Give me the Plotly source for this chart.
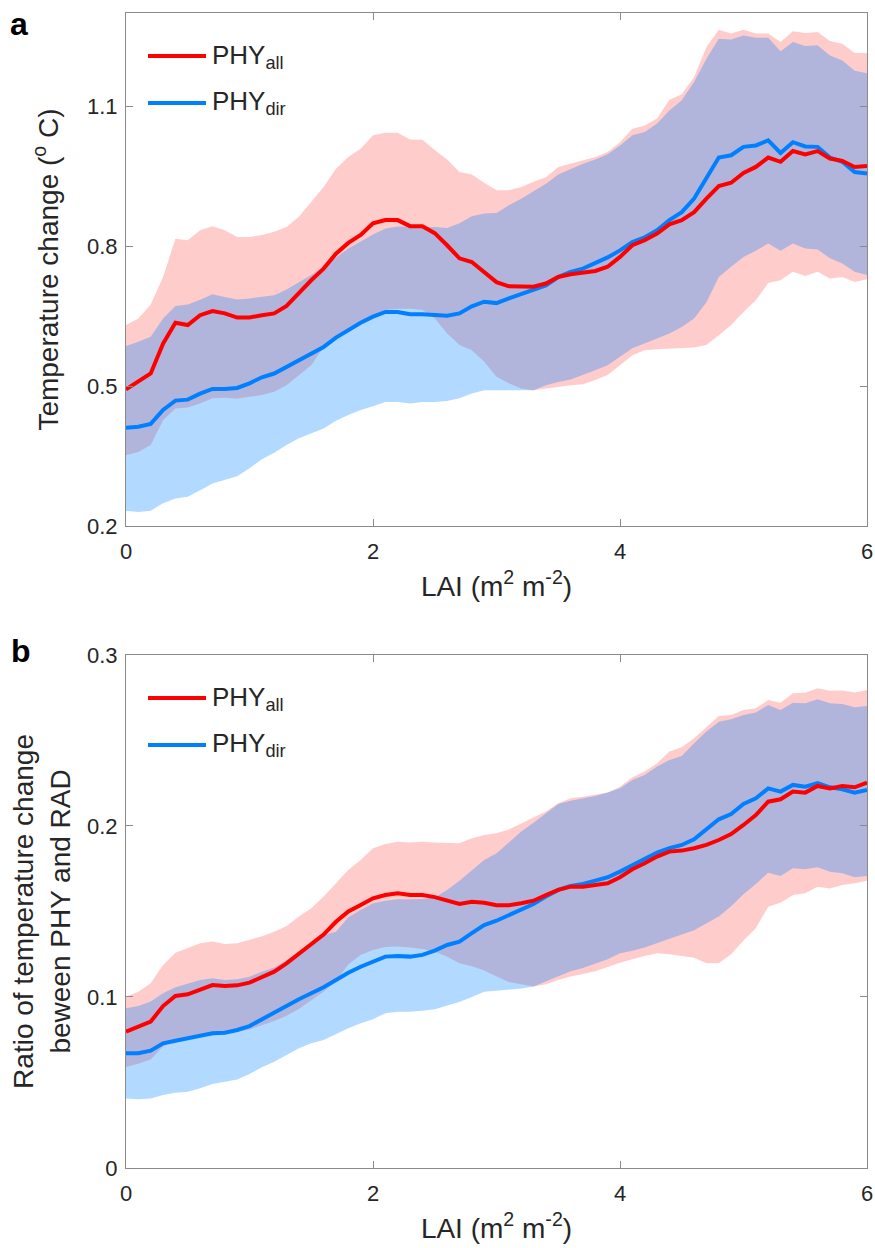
import plotly.graph_objects as go

# ---------------- data ----------------
lai = [round(i * 0.1, 1) for i in range(61)]

# Panel a: temperature change (deg C)
a_all_mean = [0.493, 0.510, 0.527, 0.591, 0.636, 0.631, 0.652, 0.661, 0.656, 0.647,
              0.647, 0.652, 0.656, 0.672, 0.700, 0.727, 0.752, 0.784, 0.807, 0.824,
              0.849, 0.856, 0.856, 0.843, 0.843, 0.828, 0.802, 0.774, 0.766, 0.745,
              0.723, 0.714, 0.713, 0.713, 0.720, 0.734, 0.740, 0.743, 0.747, 0.756,
              0.777, 0.802, 0.813, 0.827, 0.847, 0.856, 0.873, 0.902, 0.929, 0.936,
              0.957, 0.970, 0.990, 0.981, 1.004, 0.997, 1.004, 0.988, 0.983, 0.970,
              0.972]
a_all_upper = [0.631, 0.645, 0.675, 0.734, 0.816, 0.813, 0.834, 0.843, 0.834, 0.820,
               0.820, 0.824, 0.831, 0.841, 0.863, 0.895, 0.927, 0.966, 0.991, 1.009,
               1.038, 1.043, 1.043, 1.029, 1.028, 1.006, 0.986, 0.959, 0.954, 0.936,
               0.920, 0.920, 0.927, 0.938, 0.948, 0.970, 0.977, 0.983, 0.991, 1.002,
               1.023, 1.052, 1.059, 1.074, 1.114, 1.126, 1.163, 1.227, 1.264, 1.256,
               1.264, 1.256, 1.256, 1.238, 1.261, 1.257, 1.259, 1.240, 1.234, 1.214,
               1.214]
a_all_lower = [0.352, 0.359, 0.374, 0.427, 0.452, 0.454, 0.463, 0.474, 0.475, 0.473,
               0.477, 0.481, 0.488, 0.502, 0.524, 0.545, 0.584, 0.606, 0.624, 0.638,
               0.652, 0.663, 0.666, 0.666, 0.663, 0.645, 0.613, 0.588, 0.577, 0.552,
               0.520, 0.506, 0.495, 0.491, 0.495, 0.498, 0.502, 0.504, 0.513, 0.524,
               0.545, 0.566, 0.577, 0.579, 0.581, 0.582, 0.583, 0.588, 0.609, 0.631,
               0.659, 0.684, 0.721, 0.727, 0.745, 0.736, 0.745, 0.731, 0.734, 0.723,
               0.729]
a_dir_mean = [0.411, 0.413, 0.419, 0.449, 0.469, 0.471, 0.484, 0.494, 0.494, 0.496,
              0.506, 0.519, 0.527, 0.541, 0.556, 0.570, 0.584, 0.604, 0.620, 0.636,
              0.649, 0.659, 0.659, 0.654, 0.654, 0.653, 0.651, 0.656, 0.671, 0.681,
              0.678, 0.688, 0.697, 0.707, 0.716, 0.734, 0.745, 0.752, 0.763, 0.776,
              0.791, 0.809, 0.819, 0.834, 0.856, 0.873, 0.902, 0.948, 0.990, 0.995,
              1.013, 1.016, 1.027, 1.000, 1.023, 1.014, 1.013, 0.990, 0.981, 0.959,
              0.956]
a_dir_upper = [0.586, 0.595, 0.606, 0.645, 0.672, 0.675, 0.685, 0.697, 0.691, 0.686,
               0.688, 0.691, 0.695, 0.707, 0.723, 0.738, 0.756, 0.775, 0.795, 0.810,
               0.825, 0.838, 0.842, 0.842, 0.840, 0.841, 0.839, 0.849, 0.864, 0.870,
               0.871, 0.888, 0.902, 0.918, 0.934, 0.954, 0.966, 0.977, 0.986, 0.997,
               1.016, 1.038, 1.045, 1.063, 1.091, 1.113, 1.152, 1.202, 1.245, 1.243,
               1.252, 1.247, 1.247, 1.218, 1.238, 1.229, 1.231, 1.209, 1.198, 1.176,
               1.171]
a_dir_lower = [0.233, 0.230, 0.233, 0.249, 0.259, 0.263, 0.277, 0.291, 0.299, 0.307,
               0.324, 0.343, 0.357, 0.374, 0.388, 0.399, 0.409, 0.426, 0.438, 0.449,
               0.457, 0.466, 0.466, 0.463, 0.466, 0.466, 0.468, 0.474, 0.484, 0.491,
               0.491, 0.491, 0.491, 0.491, 0.502, 0.509, 0.514, 0.524, 0.534, 0.545,
               0.563, 0.581, 0.591, 0.602, 0.613, 0.627, 0.645, 0.680, 0.734, 0.756,
               0.777, 0.790, 0.806, 0.790, 0.806, 0.795, 0.793, 0.774, 0.763, 0.745,
               0.738]

# Panel b: ratio of temperature change between PHY and RAD
b_all_mean = [0.0797, 0.0826, 0.0856, 0.0947, 0.1006, 0.1016, 0.1045, 0.1070, 0.1064, 0.1068,
              0.1084, 0.1115, 0.1148, 0.1197, 0.1255, 0.1314, 0.1365, 0.1440, 0.1500, 0.1538,
              0.1577, 0.1596, 0.1606, 0.1596, 0.1596, 0.1584, 0.1567, 0.1544, 0.1557, 0.1551,
              0.1536, 0.1536, 0.1548, 0.1563, 0.1596, 0.1626, 0.1645, 0.1645, 0.1655, 0.1665,
              0.1700, 0.1747, 0.1782, 0.1821, 0.1850, 0.1856, 0.1870, 0.1889, 0.1918, 0.1953,
              0.2006, 0.2064, 0.2142, 0.2156, 0.2201, 0.2195, 0.2234, 0.2220, 0.2234, 0.2226,
              0.2253]
b_all_upper = [0.1002, 0.1031, 0.1080, 0.1187, 0.1259, 0.1285, 0.1314, 0.1324, 0.1310, 0.1314,
               0.1333, 0.1355, 0.1382, 0.1415, 0.1470, 0.1519, 0.1587, 0.1665, 0.1743, 0.1801,
               0.1870, 0.1895, 0.1908, 0.1904, 0.1908, 0.1904, 0.1902, 0.1899, 0.1928, 0.1947,
               0.1957, 0.1980, 0.2015, 0.2051, 0.2084, 0.2133, 0.2162, 0.2171, 0.2181, 0.2195,
               0.2230, 0.2285, 0.2318, 0.2367, 0.2435, 0.2460, 0.2513, 0.2581, 0.2643, 0.2649,
               0.2678, 0.2688, 0.2737, 0.2721, 0.2776, 0.2779, 0.2805, 0.2790, 0.2792, 0.2780,
               0.2795]
b_all_lower = [0.0590, 0.0610, 0.0635, 0.0710, 0.0745, 0.0755, 0.0765, 0.0775, 0.0785, 0.0795,
               0.0810, 0.0835, 0.0860, 0.0890, 0.0930, 0.0980, 0.1030, 0.1090, 0.1190, 0.1245,
               0.1275, 0.1293, 0.1295, 0.1290, 0.1280, 0.1265, 0.1235, 0.1197, 0.1180, 0.1155,
               0.1120, 0.1088, 0.1075, 0.1062, 0.1075, 0.1100, 0.1120, 0.1135, 0.1150, 0.1175,
               0.1200, 0.1220, 0.1240, 0.1255, 0.1250, 0.1240, 0.1230, 0.1197, 0.1197, 0.1250,
               0.1330, 0.1402, 0.1528, 0.1551, 0.1596, 0.1606, 0.1645, 0.1635, 0.1655, 0.1665,
               0.1680]
b_dir_mean = [0.0671, 0.0671, 0.0686, 0.0729, 0.0744, 0.0758, 0.0772, 0.0788, 0.0791, 0.0807,
              0.0830, 0.0870, 0.0905, 0.0947, 0.0987, 0.1022, 0.1057, 0.1099, 0.1142, 0.1177,
              0.1207, 0.1236, 0.1240, 0.1236, 0.1246, 0.1271, 0.1304, 0.1324, 0.1373, 0.1421,
              0.1446, 0.1480, 0.1513, 0.1544, 0.1587, 0.1626, 0.1649, 0.1661, 0.1680, 0.1700,
              0.1733, 0.1772, 0.1805, 0.1844, 0.1870, 0.1889, 0.1922, 0.1977, 0.2039, 0.2070,
              0.2129, 0.2162, 0.2220, 0.2201, 0.2240, 0.2230, 0.2250, 0.2226, 0.2215, 0.2195,
              0.2211]
b_dir_upper = [0.0934, 0.0947, 0.0973, 0.1022, 0.1057, 0.1080, 0.1099, 0.1109, 0.1099, 0.1103,
               0.1119, 0.1148, 0.1173, 0.1216, 0.1265, 0.1314, 0.1363, 0.1382, 0.1466, 0.1509,
               0.1548, 0.1563, 0.1571, 0.1571, 0.1573, 0.1583, 0.1626, 0.1680, 0.1743, 0.1801,
               0.1840, 0.1904, 0.1967, 0.2019, 0.2074, 0.2129, 0.2148, 0.2162, 0.2175, 0.2195,
               0.2220, 0.2269, 0.2298, 0.2347, 0.2386, 0.2409, 0.2484, 0.2552, 0.2610, 0.2624,
               0.2649, 0.2663, 0.2708, 0.2678, 0.2721, 0.2718, 0.2741, 0.2718, 0.2713, 0.2694,
               0.2702]
b_dir_lower = [0.0407, 0.0402, 0.0407, 0.0427, 0.0440, 0.0446, 0.0466, 0.0491, 0.0505, 0.0518,
               0.0550, 0.0589, 0.0622, 0.0661, 0.0700, 0.0729, 0.0749, 0.0784, 0.0817, 0.0846,
               0.0870, 0.0905, 0.0914, 0.0914, 0.0920, 0.0928, 0.0950, 0.0970, 0.1000, 0.1030,
               0.1035, 0.1043, 0.1050, 0.1062, 0.1090, 0.1120, 0.1150, 0.1170, 0.1195, 0.1220,
               0.1255, 0.1270, 0.1290, 0.1315, 0.1340, 0.1365, 0.1390, 0.1430, 0.1470, 0.1530,
               0.1600, 0.1660, 0.1727, 0.1708, 0.1753, 0.1747, 0.1758, 0.1733, 0.1723, 0.1700,
               0.1708]

series_names = ["PHY<sub>all</sub>", "PHY<sub>dir</sub>"]
x_ticks = [0, 2, 4, 6]
a_yticks = [0.2, 0.5, 0.8, 1.1]
b_yticks = [0, 0.1, 0.2, 0.3]

# ---------------- style ----------------
RED = "#FF0000"
BLUE = "#0080FF"
RED_FILL = "rgba(255,0,0,0.2)"
BLUE_FILL = "rgba(0,128,255,0.3)"
FONT = "Liberation Sans, Arial, Helvetica, sans-serif"
AXC = "#8a8a8a"
TXT = "#262626"

fig = go.Figure()


def band(x, lo, hi, color, xa, ya):
    fig.add_trace(go.Scatter(
        x=list(x) + list(x)[::-1], y=list(hi) + list(lo)[::-1],
        fill="toself", fillcolor=color, line=dict(width=0),
        mode="lines", hoverinfo="skip", showlegend=False, xaxis=xa, yaxis=ya))


def line(x, y, color, name, xa, ya):
    fig.add_trace(go.Scatter(
        x=x, y=y, mode="lines", line=dict(color=color, width=4), name=name,
        xaxis=xa, yaxis=ya, showlegend=False))


# panel a
band(lai, a_all_lower, a_all_upper, RED_FILL, "x", "y")
band(lai, a_dir_lower, a_dir_upper, BLUE_FILL, "x", "y")
line(lai, a_dir_mean, BLUE, series_names[1], "x", "y")
line(lai, a_all_mean, RED, series_names[0], "x", "y")
# panel b
band(lai, b_all_lower, b_all_upper, RED_FILL, "x2", "y2")
band(lai, b_dir_lower, b_dir_upper, BLUE_FILL, "x2", "y2")
line(lai, b_dir_mean, BLUE, series_names[1], "x2", "y2")
line(lai, b_all_mean, RED, series_names[0], "x2", "y2")

xcommon = dict(range=[0, 6], tickvals=x_ticks, ticks="inside", ticklen=7,
               tickcolor=AXC, showline=True, linecolor=AXC, linewidth=1,
               mirror="ticks", showgrid=False, zeroline=False, automargin=False,
               tickfont=dict(size=22, color=TXT, family=FONT),
               ticklabelstandoff=6,
               title=dict(text="LAI (m<sup>2</sup> m<sup>-2</sup>)",
                          font=dict(size=28, color=TXT, family=FONT), standoff=12))
ycommon = dict(ticks="inside", ticklen=7, tickcolor=AXC, showline=True,
               linecolor=AXC, linewidth=1, mirror="ticks", showgrid=False,
               zeroline=False, automargin=False,
               tickfont=dict(size=22, color=TXT, family=FONT),
               ticklabelstandoff=3)

# legend drawn inside each panel (MATLAB-style, long sample lines)
shapes = []
annotations = []
for xd, yd in (("x domain", "y domain"), ("x2 domain", "y2 domain")):
    for (name, col, yy) in ((series_names[0], RED, 0.916), (series_names[1], BLUE, 0.8246)):
        shapes.append(dict(type="line", xref=xd, yref=yd, x0=0.0297, x1=0.108,
                           y0=yy, y1=yy, line=dict(color=col, width=4)))
        annotations.append(dict(text=name, xref=xd, yref=yd, x=0.114, y=yy,
                                xanchor="left", yanchor="middle", yshift=0,
                                showarrow=False,
                                font=dict(size=26, color=TXT, family=FONT)))

annotations += [
    dict(text="<b>a</b>", x=-0.1444, y=0.9905, xref="paper", yref="paper",
         xanchor="center", yanchor="middle", showarrow=False,
         font=dict(size=32, color="black", family=FONT)),
    dict(text="<b>b</b>", x=-0.1417, y=0.4476, xref="paper", yref="paper",
         xanchor="center", yanchor="middle", showarrow=False,
         font=dict(size=32, color="black", family=FONT)),
]

fig.update_layout(
    width=875, height=1248,
    margin=dict(l=126, r=8, t=13, b=80),
    paper_bgcolor="white", plot_bgcolor="white",
    font=dict(family=FONT, color=TXT),
    showlegend=False,
    xaxis=dict(domain=[0, 1], anchor="y", **xcommon),
    yaxis=dict(domain=[0.5558, 1], anchor="x", range=[0.2, 1.3], tickvals=a_yticks,
               tickformat=".1f",
               title=dict(text="Temperature change (<sup>o</sup> C)",
                          font=dict(size=28, color=TXT, family=FONT), standoff=20),
               **ycommon),
    xaxis2=dict(domain=[0, 1], anchor="y2", **xcommon),
    yaxis2=dict(domain=[0, 0.4442], anchor="x2", range=[0, 0.3], tickvals=b_yticks,
                ticktext=["0", "0.1", "0.2", "0.3"],
                title=dict(text="Ratio of temperature change<br>beween PHY and RAD",
                           font=dict(size=28, color=TXT, family=FONT), standoff=8),
                **ycommon),
    shapes=shapes,
    annotations=annotations,
)

fig.write_html("out.html", config={"displayModeBar": False},
               post_script="document.body.style.margin='0';document.body.style.overflow='hidden';")
